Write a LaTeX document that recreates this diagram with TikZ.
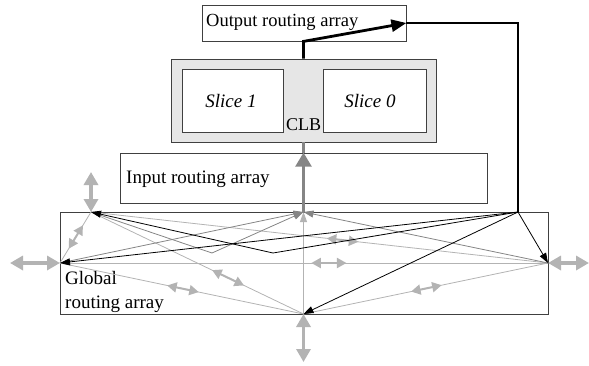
\documentclass[tikz,border=0pt]{standalone}
\usepackage{fontspec}
\setmainfont{Liberation Serif}
\usetikzlibrary{arrows.meta,calc}
\definecolor{lg}{HTML}{B3B3B3}
\definecolor{mg}{HTML}{858585}
\definecolor{bx}{HTML}{404040}
\definecolor{clbfill}{HTML}{E6E6E6}
\begin{document}
\begin{tikzpicture}[x=1pt,y=-1pt,
  box/.style={draw=bx, line width=0.8pt, inner sep=0pt},
  lbl/.style={font=\fontsize{19}{21}\selectfont, inner sep=0pt, anchor=base west},
  blk/.style={black, line width=0.8pt, -{Triangle[length=10pt,width=7pt]}},
  gry/.style={mg, line width=0.8pt, -{Triangle[length=10pt,width=7pt]}},
  lgl/.style={lg, line width=0.8pt},
  dbl/.style={lg, line width=2pt, {Triangle[length=9.5pt,width=10pt]}-{Triangle[length=9.5pt,width=10pt]}},
  ext/.style={lg, line width=3.5pt, {Triangle[length=13pt,width=14pt]}-{Triangle[length=13pt,width=14pt]}},
]
\useasboundingbox (0,0) rectangle (589,365);

% boxes
\node[box, minimum width=204pt, minimum height=36pt] (out) at (304,23) {};
\node[box, fill=clbfill, minimum width=265pt, minimum height=83pt] (clb) at (303.5,100.5) {};
\node[box, fill=white, minimum width=101pt, minimum height=63pt] (s1) at (232.5,100.5) {};
\node[box, fill=white, minimum width=103pt, minimum height=63pt] (s0) at (374.5,100.5) {};
\node[box, minimum width=367pt, minimum height=50pt] (inp) at (303.5,178) {};
\node[box, minimum width=488pt, minimum height=102pt] (glb) at (304,263) {};

% labels
\node[lbl, font=\fontsize{18.5}{21}\selectfont] (tout) at (206,26) {Output routing array};
\node[lbl] (tinp) at (126,183) {Input routing array};
\node[lbl, anchor=base, font=\fontsize{19}{21}\selectfont\itshape] (ts1) at (231,107) {Slice 1};
\node[lbl, anchor=base, font=\fontsize{19}{21}\selectfont\itshape] (ts0) at (370,107) {Slice 0};
\node[lbl, font=\fontsize{18}{21}\selectfont] (tclb) at (286,130) {CLB};
\node[lbl] (tg1) at (65,284) {Global};
\node[lbl] (tg2) at (65,308) {routing array};

% points
\coordinate (A) at (91,212);
\coordinate (B) at (303.5,212);
\coordinate (C) at (518,212);
\coordinate (D) at (60,263);
\coordinate (E) at (548,263);
\coordinate (F) at (303.5,314);
\coordinate (Z1) at (273,253);
\coordinate (Z2) at (212,253);
\coordinate (At) at (91,172);
\coordinate (Dl) at (10,263);
\coordinate (Er) at (589,263);
\coordinate (Fb) at (303.5,362);

% light grey bidirectional lines
\draw[lgl] (A) -- (D);
\draw[lgl] (A) -- (F);
\draw[lgl] (D) -- (F);
\draw[lgl] (A) -- (E);
\draw[lgl] (D) -- (E);
\draw[lgl] (F) -- (E);
\draw[dbl] ($(A)!0.26!(D)$) -- ($(A)!0.72!(D)$);
\draw[dbl] ($(A)!0.57!(F)$) -- ($(A)!0.72!(F)$);
\draw[dbl] ($(D)!0.44!(F)$) -- ($(D)!0.57!(F)$);
\draw[dbl] ($(A)!0.516!(E)$) -- ($(A)!0.585!(E)$);
\draw[dbl] ($(D)!0.515!(E)$) -- ($(D)!0.587!(E)$);
\draw[dbl] ($(F)!0.44!(E)$) -- ($(F)!0.565!(E)$);

% grey lines to B
\draw[gry, draw=lg] (F) -- (B);
\draw[gry] (D) -- (B);
\draw[gry] (A) -- (Z2) -- (B);
\draw[gry] (E) -- (B);

% black lines from C
\draw[blk] (C) -- (D);
\draw[blk] (C) -- (Z1) -- (A);
\draw[blk] (C) -- (F);
\draw[blk] (C) -- (E);

% external double arrows
\draw[ext] (At) -- (A);
\draw[ext] (Dl) -- (D);
\draw[ext] (E) -- (Er);
\draw[ext] (F) -- (Fb);

% thick grey arrow into CLB
\draw[mg, line width=2.5pt, -{Triangle[length=14pt,width=16pt]}] (B) -- (inp.north);
\draw[mg, line width=2.5pt] (inp.north) -- (clb.south);

% thick black output path
\draw[black, line width=2.8pt, -{Triangle[length=15pt,width=12pt]}] (clb.north) -- (clb.north |- out.south) -- (out.east);
\draw[black, line width=2.8pt] (out.east) -- (C |- out.east) -- (C);
\end{tikzpicture}
\end{document}
